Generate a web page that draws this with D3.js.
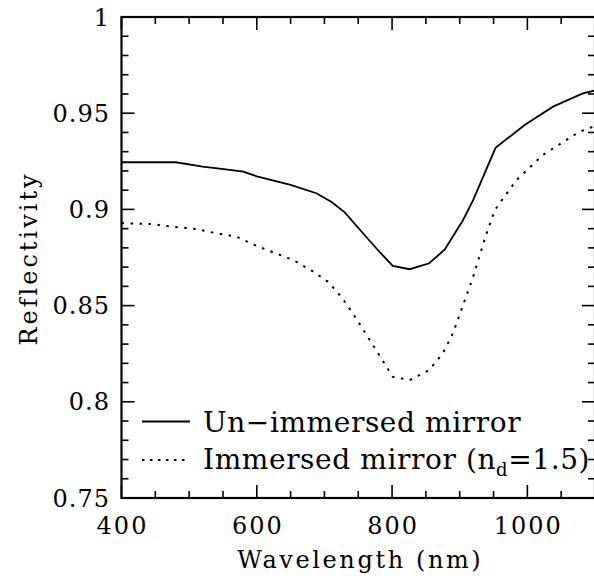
<!DOCTYPE html>
<html>
<head>
<meta charset="utf-8">
<script src="https://cdn.jsdelivr.net/npm/d3@7"></script>
<style>
  html, body { margin: 0; padding: 0; background: #fff; }
  svg text { font-family: "DejaVu Serif", "Liberation Serif", serif; fill: #000; }
</style>
</head>
<body>
<svg id="chart" width="594" height="578"></svg>
<script>
// Wavelength samples (nm) and reflectivity for the bare mirror
const wlBare = [400, 480, 520, 545, 580, 600, 650, 688, 710, 730, 757, 779, 801, 826, 855, 878, 905, 920, 953, 996, 1038, 1082, 1100];
const reflBare = [0.9245, 0.9245, 0.9222, 0.9212, 0.9196, 0.9172, 0.9127, 0.9084, 0.9040, 0.8985, 0.8876, 0.8789, 0.8706, 0.8689, 0.8720, 0.8792, 0.8945, 0.9049, 0.9320, 0.9439, 0.9534, 0.9603, 0.9618];

// Same mirror immersed in a medium with n_d = 1.5
const wlImm = [400, 447, 461, 511, 540, 570, 600, 624, 654, 681, 705, 725, 742, 767, 784, 801, 826, 855, 875, 890, 905, 920, 938, 952, 984, 1023, 1077, 1100];
const reflImm = [0.8928, 0.8924, 0.8915, 0.8898, 0.8876, 0.8858, 0.8810, 0.8777, 0.8737, 0.8682, 0.8625, 0.8546, 0.8460, 0.8321, 0.8226, 0.8130, 0.8113, 0.8165, 0.8252, 0.8356, 0.8503, 0.8651, 0.8858, 0.8997, 0.9153, 0.9283, 0.9404, 0.9433];

// Axis ticks
const xMajor = [400, 600, 800, 1000];
const xTickLabels = ["400", "600", "800", "1000"];
const xMinor = [450, 500, 550, 650, 700, 750, 850, 900, 950, 1050];
const yMajor = [0.75, 0.8, 0.85, 0.9, 0.95, 1];
const yTickLabels = ["0.75", "0.8", "0.85", "0.9", "0.95", "1"];
const yMinor = [0.76, 0.77, 0.78, 0.79, 0.81, 0.82, 0.83, 0.84, 0.86, 0.87, 0.88, 0.89, 0.91, 0.92, 0.93, 0.94, 0.96, 0.97, 0.98, 0.99];

const legendLabels = ["Un\u2212immersed mirror", "Immersed mirror ("];

const svg = d3.select("#chart");
const pL = 121.5, pR = 595, pT = 17, pB = 498;

const x = d3.scaleLinear().domain([400, 1100]).range([pL, pR]);
const y = d3.scaleLinear().domain([0.75, 1]).range([pB, pT]);

const majorLen = 13, minorLen = 7;
const axisG = svg.append("g").attr("stroke", "#000");

// inward ticks on all four sides
function vTicks(vals, len) {
  vals.forEach(v => {
    axisG.append("line").attr("x1", x(v)).attr("x2", x(v)).attr("y1", pB).attr("y2", pB - len).attr("stroke-width", 1.6);
    axisG.append("line").attr("x1", x(v)).attr("x2", x(v)).attr("y1", pT).attr("y2", pT + len).attr("stroke-width", 1.6);
  });
}
function hTicks(vals, len) {
  vals.forEach(v => {
    axisG.append("line").attr("y1", y(v)).attr("y2", y(v)).attr("x1", pL).attr("x2", pL + len).attr("stroke-width", 1.6);
    axisG.append("line").attr("y1", y(v)).attr("y2", y(v)).attr("x1", pR).attr("x2", pR - len).attr("stroke-width", 1.6);
  });
}
vTicks(xMajor, majorLen);
vTicks(xMinor, minorLen);
hTicks(yMajor, majorLen);
hTicks(yMinor, minorLen);

// frame
axisG.append("rect")
  .attr("x", pL).attr("y", pT)
  .attr("width", pR - pL).attr("height", pB - pT)
  .attr("fill", "none").attr("stroke-width", 2.2);

// tick labels (letter-spacing adds a trailing gap, so nudge centred labels right)
svg.append("g").selectAll("text").data(xMajor).join("text")
  .attr("x", d => x(d) + 1).attr("y", 534)
  .attr("text-anchor", "middle")
  .attr("font-size", 24)
  .attr("letter-spacing", 2)
  .text((d, i) => xTickLabels[i]);

svg.append("g").selectAll("text").data(yMajor).join("text")
  .attr("x", 110).attr("y", d => y(d) + 8.5)
  .attr("text-anchor", "end")
  .attr("font-size", 24)
  .attr("letter-spacing", 1)
  .text((d, i) => yTickLabels[i]);

// axis titles
svg.append("text")
  .attr("x", (pL + pR) / 2 + 2).attr("y", 568)
  .attr("text-anchor", "middle")
  .attr("font-size", 24)
  .attr("letter-spacing", 2.6)
  .text("Wavelength (nm)");

svg.append("text")
  .attr("transform", `translate(37,${(pT + pB) / 2 + 1}) rotate(-90)`)
  .attr("text-anchor", "middle")
  .attr("font-size", 24)
  .attr("letter-spacing", 3)
  .text("Reflectivity");

// curves
const line = d3.line().x(d => x(d[0])).y(d => y(d[1]));
const bare = wlBare.map((w, i) => [w, reflBare[i]]);
const imm = wlImm.map((w, i) => [w, reflImm[i]]);

svg.append("clipPath").attr("id", "plot-clip")
  .append("rect").attr("x", pL).attr("y", pT).attr("width", pR - pL).attr("height", pB - pT);

const curves = svg.append("g").attr("clip-path", "url(#plot-clip)").attr("fill", "none").attr("stroke", "#000");
curves.append("path").attr("d", line(bare)).attr("stroke-width", 1.8);
curves.append("path").attr("d", line(imm)).attr("stroke-width", 2).attr("stroke-dasharray", "2.5,6.5");

// legend
const lg = svg.append("g");
lg.append("line").attr("x1", 142).attr("x2", 190).attr("y1", 421.5).attr("y2", 421.5)
  .attr("stroke", "#000").attr("stroke-width", 1.8);
lg.append("line").attr("x1", 142).attr("x2", 190).attr("y1", 460).attr("y2", 460)
  .attr("stroke", "#000").attr("stroke-width", 2).attr("stroke-dasharray", "2.5,5.5");

lg.append("text").attr("x", 203).attr("y", 431.5).attr("font-size", 28)
  .attr("letter-spacing", 0.6).text(legendLabels[0]);
const t2 = lg.append("text").attr("x", 203).attr("y", 468.5).attr("font-size", 28).attr("letter-spacing", 0.6);
t2.append("tspan").text(legendLabels[1] + "n");
t2.append("tspan").attr("font-size", 18).attr("dy", 7).text("d");
t2.append("tspan").attr("dy", -7).text("=1.5)");
</script>
</body>
</html>
